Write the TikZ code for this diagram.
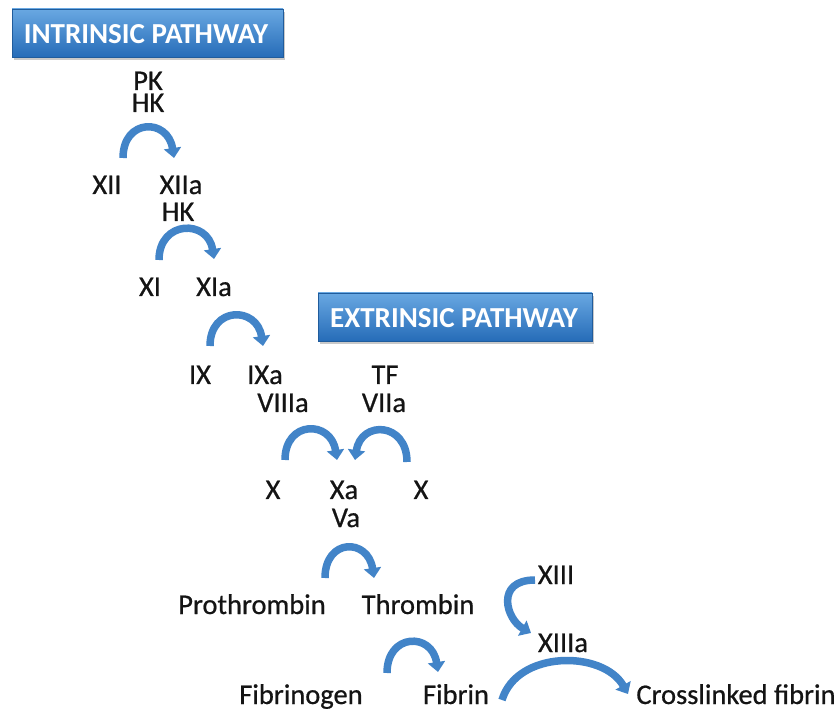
\documentclass[tikz,border=0pt]{standalone}
\usepackage{fontspec}
\setmainfont{Carlito}
\newfontfamily\lblfont{Carlito}[FakeBold=0.6]
\usetikzlibrary{arrows.meta,shadows}
\definecolor{boxtop}{RGB}{105,168,226}
\definecolor{boxbot}{RGB}{38,108,184}
\definecolor{arrowblue}{RGB}{66,132,200}
\definecolor{txt}{RGB}{20,20,20}
\tikzset{
  lbl/.style={anchor=base, inner sep=0pt, text=txt, font=\lblfont\fontsize{28.5}{28.5}\selectfont},
  hdr/.style={anchor=center, inner sep=0pt, text=white, font=\bfseries\fontsize{29}{29}\selectfont},
  pathbox/.style={draw=boxbot!85!black, line width=0.6pt, top color=boxtop, bottom color=boxbot,
    drop shadow={shadow xshift=1.5pt, shadow yshift=-3pt, opacity=0.35, fill=black!60}},
  curvarrow/.style={draw=arrowblue, line width=7.5pt, line cap=butt,
    -{Triangle[width=17pt,length=10pt]}}
}
\begin{document}
\begin{tikzpicture}[x=1pt,y=-1pt]
\useasboundingbox (0,0) rectangle (839,711);
\fill[white] (0,0) rectangle (839,711);

% headers
\path[pathbox] (12,9) rectangle (283,57);
\node[hdr] (intr) at (146,34) {INTRINSIC PATHWAY};
\path[pathbox] (318,293) rectangle (592,341);
\node[hdr] (extr) at (454,318) {EXTRINSIC PATHWAY};

% labels
\node[lbl] (pk) at (148,90) {PK};
\node[lbl] (hk1) at (148,112) {HK};
\node[lbl] (xii) at (107,194) {XII};
\node[lbl] (xiia) at (181,194) {XIIa};
\node[lbl] (hk2) at (178,221) {HK};
\node[lbl] (xi) at (150,296) {XI};
\node[lbl] (xia) at (214,296) {XIa};
\node[lbl] (ix) at (200,384) {IX};
\node[lbl] (ixa) at (265,384) {IXa};
\node[lbl] (tf) at (385,384) {TF};
\node[lbl] (viiia) at (283,412) {VIIIa};
\node[lbl] (viia) at (384,412) {VIIa};
\node[lbl] (xl) at (273,499) {X};
\node[lbl] (xa) at (344,499) {Xa};
\node[lbl] (xr) at (421,499) {X};
\node[lbl] (va) at (346,527) {Va};
\node[lbl] (prot) at (252,614) {Prothrombin};
\node[lbl] (thr) at (418,614) {Thrombin};
\node[lbl] (xiii) at (556,584) {XIII};
\node[lbl] (xiiia) at (563,652) {XIIIa};
\node[lbl] (fgen) at (301,704) {Fibrinogen};
\node[lbl] (fib) at (456,704) {Fibrin};
\node[lbl] (cfib) at (736,704) {Crosslinked fibrin};

% arrow end points
\coordinate (a1s) at (123,158); \coordinate (a1e) at (174,158);
\coordinate (a2s) at (159,260); \coordinate (a2e) at (214,259);
\coordinate (a3s) at (210,346); \coordinate (a3e) at (263,346);
\coordinate (a4s) at (285,460); \coordinate (a4e) at (337,460);
\coordinate (a5s) at (407,462); \coordinate (a5e) at (355,460);
\coordinate (a6s) at (325,578); \coordinate (a6e) at (374,578);
\coordinate (a7s) at (387,673); \coordinate (a7e) at (438,672);
\coordinate (a8s) at (535,580); \coordinate (a8e) at (531,633);
\coordinate (a9s) at (502,700); \coordinate (a9e) at (628,694);

\draw[curvarrow] (a1s) .. controls +(0,-40) and +(-6,-40) .. (a1e);
\draw[curvarrow] (a2s) .. controls +(0,-40) and +(-6,-40) .. (a2e);
\draw[curvarrow] (a3s) .. controls +(0,-40) and +(-6,-40) .. (a3e);
\draw[curvarrow] (a4s) .. controls +(0,-40) and +(-6,-40) .. (a4e);
\draw[curvarrow] (a5s) .. controls +(0,-40) and +(6,-40) .. (a5e);
\draw[curvarrow] (a6s) .. controls +(0,-40) and +(-6,-40) .. (a6e);
\draw[curvarrow] (a7s) .. controls +(0,-40) and +(-6,-40) .. (a7e);
\draw[curvarrow] (a8s) .. controls +(-40,0) and +(-25,-14) .. (a8e);
\draw[curvarrow] (a9s) .. controls +(15,-50) and +(-25,-44) .. (a9e);
\end{tikzpicture}
\end{document}
